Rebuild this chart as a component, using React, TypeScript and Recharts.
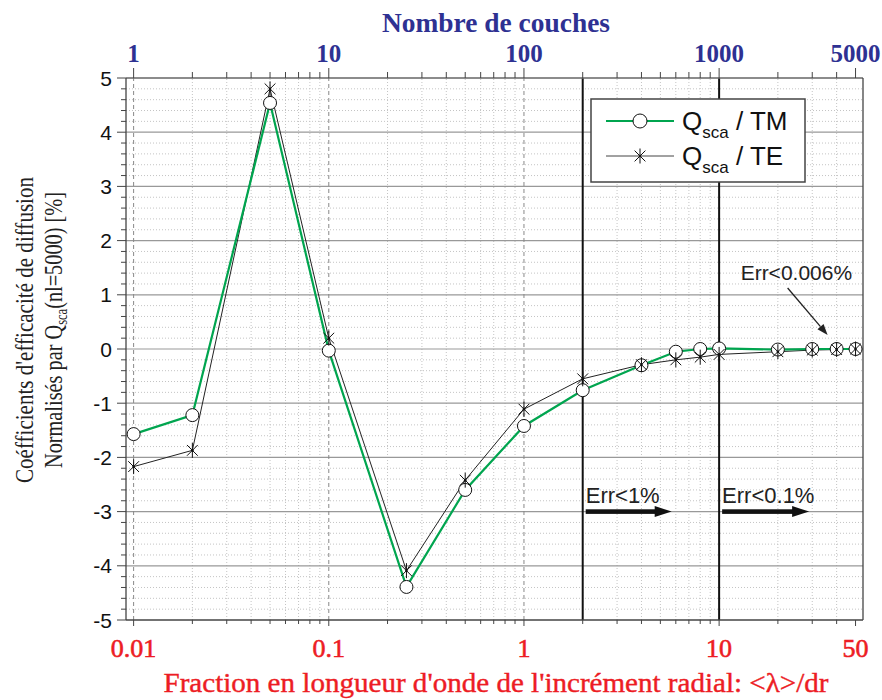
import { LineChart, Line, XAxis, YAxis, ReferenceLine, ReferenceDot, Legend } from 'recharts';

// x = fraction of wavelength per radial step; top axis = number of layers
const fractions = [0.01, 0.02, 0.05, 0.1, 0.25, 0.5, 1, 2, 4, 6, 8, 10, 20, 30, 40, 50];
const tmValues = [-1.57, -1.22, 4.54, -0.03, -4.39, -2.6, -1.42, -0.76, -0.3, -0.05, 0, 0.01, -0.01, 0, 0, 0];
const teValues = [-2.17, -1.87, 4.8, 0.2, -4.09, -2.42, -1.11, -0.55, -0.29, -0.2, -0.15, -0.1, -0.05, -0.02, -0.01, 0];

const bottomLabels = [0.01, 0.1, 1, 10, 50];
const topLabels = ['1', '10', '100', '1000', '5000'];
const minorX = [
  0.02, 0.03, 0.04, 0.05, 0.06, 0.07, 0.08, 0.09,
  0.2, 0.3, 0.4, 0.5, 0.6, 0.7, 0.8, 0.9,
  2, 3, 4, 5, 6, 7, 8, 9,
  20, 30, 40,
];
const decadeLines = [0.01, 0.1, 1];
const errLines = [2, 10];
const yTicks = [-5, -4, -3, -2, -1, 0, 1, 2, 3, 4, 5];
const minorY: number[] = [];
for (let i = -24; i <= 24; i++) if (i % 5 !== 0) minorY.push(i / 5);

const xTicks = [...bottomLabels, ...minorX].sort((a, b) => a - b);
const yAllTicks = [...yTicks, ...minorY].sort((a, b) => a - b);

const rows = fractions.map((f, i) => ({ f, tm: tmValues[i], te: teValues[i] }));

const GREEN = '#00a54f';
const RED = '#ed1c24';
const BLUE = '#2e3192';
const SERIF = '"Liberation Serif", "DejaVu Serif", serif';
const SANS = '"Liberation Sans", Arial, sans-serif';

const BottomTick = (p: any) => {
  const v = p.payload.value;
  const major = bottomLabels.includes(v);
  return (
    <g>
      <line x1={p.x} x2={p.x} y1={p.y} y2={p.y + (major ? 6 : 4)} stroke="#444" />
      {major && (
        <text x={p.x} y={p.y + 37} textAnchor="middle" fill={RED} stroke={RED} strokeWidth={0.6} fontFamily={SERIF} fontSize={26}>
          {v}
        </text>
      )}
    </g>
  );
};

const TopTick = (p: any) => {
  const v = p.payload.value;
  const idx = bottomLabels.indexOf(v);
  return (
    <g>
      <line x1={p.x} x2={p.x} y1={p.y} y2={p.y - (idx >= 0 ? 10 : 6)} stroke="#444" />
      {idx >= 0 && (
        <text x={p.x} y={p.y - 16} textAnchor="middle" fill={BLUE} fontFamily={SERIF} fontWeight="bold" fontSize={25}>
          {topLabels[idx]}
        </text>
      )}
    </g>
  );
};

const LeftTick = (p: any) => {
  const v = p.payload.value;
  const major = yTicks.includes(v);
  return (
    <g>
      <line x1={p.x} x2={p.x - (major ? 9 : 5)} y1={p.y} y2={p.y} stroke="#444" />
      {major && (
        <text x={p.x - 14} y={p.y + 7.5} textAnchor="end" fill="#111" fontFamily={SANS} fontSize={21}>
          {v}
        </text>
      )}
    </g>
  );
};

const RightTick = (p: any) => {
  const major = yTicks.includes(p.payload.value);
  return <line x1={p.x} x2={p.x - (major ? 10 : 5)} y1={p.y} y2={p.y} stroke="#444" />;
};

const Star = (p: any) => {
  const { cx, cy } = p;
  const r = 7.5;
  const d = r * 0.72;
  return (
    <g key={`te-${p.index}`}>
      <line x1={cx} x2={cx} y1={cy - r} y2={cy + r} stroke="#111" strokeWidth={1} />
      <line x1={cx - d} x2={cx + d} y1={cy - d} y2={cy + d} stroke="#111" strokeWidth={1} />
      <line x1={cx - d} x2={cx + d} y1={cy + d} y2={cy - d} stroke="#111" strokeWidth={1} />
      <circle cx={cx} cy={cy} r={1.3} fill="#111" />
    </g>
  );
};

const ErrArrow = (text: string, len: number) => (p: any) => {
  const { cx, cy } = p;
  return (
    <g>
      <text x={cx + 3} y={cy - 9} fontFamily={SANS} fontSize={22} fill="#222">
        {text}
      </text>
      <rect x={cx + 3} y={cy - 2.3} width={len - 14} height={4.6} fill="#111" />
      <polygon points={`${cx + len - 17},${cy - 5.5} ${cx + len},${cy} ${cx + len - 17},${cy + 5.5}`} fill="#111" />
    </g>
  );
};

const FineArrow = (p: any) => {
  const { cx, cy } = p;
  const x1 = cx - 49, y1 = cy - 61, x2 = cx - 9, y2 = cy - 14;
  const ang = Math.atan2(y2 - y1, x2 - x1);
  const L = 11, W = 4;
  const bx = x2 - L * Math.cos(ang), by = y2 - L * Math.sin(ang);
  return (
    <g>
      <text x={cx - 96} y={cy - 69} fontFamily={SANS} fontSize={21} fill="#222">
        Err&lt;0.006%
      </text>
      <line x1={x1} y1={y1} x2={bx} y2={by} stroke="#222" strokeWidth={1.3} />
      <polygon
        points={`${x2},${y2} ${bx + W * Math.sin(ang)},${by - W * Math.cos(ang)} ${bx - W * Math.sin(ang)},${by + W * Math.cos(ang)}`}
        fill="#222"
      />
    </g>
  );
};

const LegendBox = () => (
  <svg width={216} height={85} style={{ display: 'block' }}>
    <rect x={1} y={1} width={214} height={83} fill="#fff" stroke="#444" strokeWidth={1.5} />
    <line x1={16} x2={84} y1={23} y2={23} stroke={GREEN} strokeWidth={2} />
    <circle cx={50} cy={23} r={7} fill="#fff" stroke="#111" />
    <line x1={16} x2={84} y1={58} y2={58} stroke="#444" strokeWidth={1} />
    <Star cx={50} cy={58} index="legend" />
    <text x={92} y={32} fontFamily={SANS} fontSize={26} fill="#111">
      Q<tspan fontSize={17} dy={8}>sca</tspan>
      <tspan dy={-8}> / TM</tspan>
    </text>
    <text x={92} y={67} fontFamily={SANS} fontSize={26} fill="#111">
      Q<tspan fontSize={17} dy={8}>sca</tspan>
      <tspan dy={-8}> / TE</tspan>
    </text>
  </svg>
);

export default function App() {
  return (
    <div style={{ position: 'absolute', left: 0, top: 0, width: 882, height: 700, background: '#fff' }}>
      <LineChart width={882} height={700} data={rows} margin={{ top: 8, right: 9, bottom: 10, left: 6 }}>
        <XAxis
          xAxisId="bottom"
          dataKey="f"
          type="number"
          scale="log"
          domain={[0.00914, 54.6]}
          allowDataOverflow
          ticks={xTicks}
          interval={0}
          tickSize={0}
          tickMargin={0}
          tickLine={false}
          tick={BottomTick}
          height={70}
          axisLine={{ stroke: '#444', strokeWidth: 1.3 }}
          label={() => (
            <text x={496} y={692} textAnchor="middle" fill={RED} stroke={RED} strokeWidth={0.4} fontFamily={SERIF} fontSize={27} textLength={665} lengthAdjust="spacingAndGlyphs">
              Fraction en longueur d'onde de l'incrément radial: &lt;λ&gt;/dr
            </text>
          )}
        />
        <XAxis
          xAxisId="top"
          orientation="top"
          dataKey="f"
          type="number"
          scale="log"
          domain={[0.00914, 54.6]}
          allowDataOverflow
          ticks={xTicks}
          interval={0}
          tickSize={0}
          tickMargin={0}
          tickLine={false}
          tick={TopTick}
          height={70}
          axisLine={{ stroke: '#666', strokeWidth: 1.3 }}
          label={() => (
            <text x={496} y={32} textAnchor="middle" fill={BLUE} fontFamily={SERIF} fontWeight="bold" fontSize={27} textLength={228} lengthAdjust="spacingAndGlyphs">
              Nombre de couches
            </text>
          )}
        />
        <YAxis
          yAxisId="left"
          type="number"
          domain={[-5, 5]}
          ticks={yAllTicks}
          interval={0}
          tickSize={0}
          tickMargin={0}
          tickLine={false}
          tick={LeftTick}
          width={120}
          axisLine={{ stroke: '#444', strokeWidth: 1.3 }}
          label={() => (
            <g fontFamily={SERIF} fill="#222">
              <text x={33} y={330} transform="rotate(-90 33 330)" textAnchor="middle" fontSize={26} textLength={306} lengthAdjust="spacingAndGlyphs">
                Coéfficients d'efficacité de diffusion
              </text>
              <text x={62} y={330} transform="rotate(-90 62 330)" textAnchor="middle" fontSize={26} textLength={276} lengthAdjust="spacingAndGlyphs">
                Normalisés par Q<tspan fontSize={16} dy={5}>sca</tspan>
                <tspan dy={-5}>(nl=5000) [%]</tspan>
              </text>
            </g>
          )}
        />
        <YAxis
          yAxisId="right"
          orientation="right"
          type="number"
          domain={[-5, 5]}
          ticks={yAllTicks}
          interval={0}
          tickSize={0}
          tickMargin={0}
          tickLine={false}
          tick={RightTick}
          width={10}
          axisLine={{ stroke: '#444', strokeWidth: 1.3 }}
        />

        {/* grid */}
        {minorY.map((v) => (
          <ReferenceLine key={`my${v}`} xAxisId="bottom" yAxisId="left" y={v} stroke="#c4c4c4" strokeDasharray="1 2" />
        ))}
        {minorX.map((v) => (
          <ReferenceLine key={`mx${v}`} xAxisId="bottom" yAxisId="left" x={v} stroke="#c4c4c4" strokeDasharray="1 2" />
        ))}
        {yTicks.slice(1, -1).map((v) => (
          <ReferenceLine key={`y${v}`} xAxisId="bottom" yAxisId="left" y={v} stroke="#999" strokeWidth={1.2} />
        ))}
        {decadeLines.map((v) => (
          <ReferenceLine key={`d${v}`} xAxisId="bottom" yAxisId="left" x={v} stroke="#888" strokeDasharray="4 3" />
        ))}
        {errLines.map((v) => (
          <ReferenceLine key={`e${v}`} xAxisId="bottom" yAxisId="left" x={v} stroke="#111" strokeWidth={2} />
        ))}

        {/* TE line under the circles, TE stars on top */}
        <Line
          xAxisId="bottom"
          yAxisId="left"
          dataKey="te"
          stroke="#222"
          strokeWidth={1}
          dot={false}
          activeDot={false}
          isAnimationActive={false}
        />
        <Line
          xAxisId="bottom"
          yAxisId="left"
          dataKey="tm"
          stroke={GREEN}
          strokeWidth={2.2}
          dot={{ r: 6.5, fill: '#fff', stroke: '#111', strokeWidth: 1 }}
          isAnimationActive={false}
        />
        <Line
          xAxisId="bottom"
          yAxisId="left"
          dataKey="te"
          stroke="none"
          dot={Star}
          activeDot={false}
          legendType="none"
          isAnimationActive={false}
        />

        <ReferenceDot xAxisId="bottom" yAxisId="left" x={2} y={-3} r={0} shape={ErrArrow('Err<1%', 89)} />
        <ReferenceDot xAxisId="bottom" yAxisId="left" x={10} y={-3} r={0} shape={ErrArrow('Err<0.1%', 90)} />
        <ReferenceDot xAxisId="bottom" yAxisId="left" x={40} y={0} r={0} shape={FineArrow} />

        <Legend
          layout="vertical"
          align="center"
          verticalAlign="middle"
          content={LegendBox}
          wrapperStyle={{ left: 590, top: 98, width: 216, height: 85 }}
        />
      </LineChart>
    </div>
  );
}
